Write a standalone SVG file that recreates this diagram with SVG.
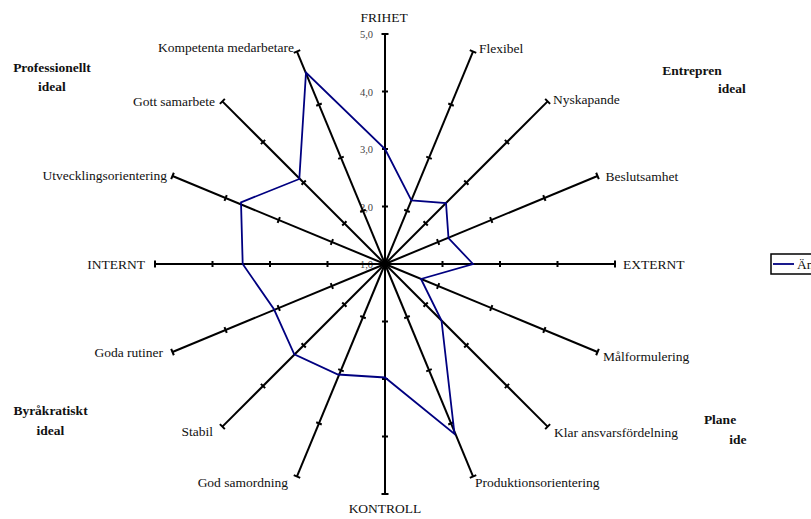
<svg xmlns="http://www.w3.org/2000/svg" xmlns:xlink="http://www.w3.org/1999/xlink" width="811" height="519" viewBox="0 0 811 519">
<style>
.ax{stroke:#000;stroke-width:2;fill:none}
text{font-family:'Liberation Serif','Times New Roman',serif}
.lbl{font-size:13.5px;fill:#111}
.ttl{font-size:13.5px;font-weight:bold;fill:#111;text-anchor:middle}
.val{font-size:10.5px;fill:#444;text-anchor:end}
.series{stroke:#000080;stroke-width:1.8;fill:none;stroke-linejoin:miter}
</style>
<defs>
<g id="axis">
<line class="ax" x1="0" y1="0" x2="0" y2="-230"/>
<path class="ax" d="M-3,-57.5H3M-3,-115H3M-3,-172.5H3M-3.5,-230H3.5"/>
</g>
</defs>
<rect width="811" height="519" fill="#fff"/>

<g id="value-labels">
<text class="val" x="373" y="38">5,0</text>
<text class="val" x="373" y="95.5">4,0</text>
<text class="val" x="373" y="153">3,0</text>
<text class="val" x="373" y="210.5">2,0</text>
<text class="val" x="373" y="268">1,0</text>
</g>

<g id="connectors">
<use xlink:href="#axis" transform="translate(385 264) rotate(0)"/>
<use xlink:href="#axis" transform="translate(385 264) rotate(22.5)"/>
<use xlink:href="#axis" transform="translate(385 264) rotate(45)"/>
<use xlink:href="#axis" transform="translate(385 264) rotate(67.5)"/>
<use xlink:href="#axis" transform="translate(385 264) rotate(90)"/>
<use xlink:href="#axis" transform="translate(385 264) rotate(112.5)"/>
<use xlink:href="#axis" transform="translate(385 264) rotate(135)"/>
<use xlink:href="#axis" transform="translate(385 264) rotate(157.5)"/>
<use xlink:href="#axis" transform="translate(385 264) rotate(180)"/>
<use xlink:href="#axis" transform="translate(385 264) rotate(202.5)"/>
<use xlink:href="#axis" transform="translate(385 264) rotate(225)"/>
<use xlink:href="#axis" transform="translate(385 264) rotate(247.5)"/>
<use xlink:href="#axis" transform="translate(385 264) rotate(270)"/>
<use xlink:href="#axis" transform="translate(385 264) rotate(292.5)"/>
<use xlink:href="#axis" transform="translate(385 264) rotate(315)"/>
<use xlink:href="#axis" transform="translate(385 264) rotate(337.5)"/>
</g>

<g id="series">
<polygon class="series" points="385,149 411.4,200.3 446,203 448.5,238 473,264 421,279 441.5,320.5 454.5,434 385,377.5 338,374.5 294.3,354.3 274,309.3 242.7,264 241,202.3 299.3,179 306,72.5"/>
</g>

<g id="n-frihet"><text class="lbl" x="384" y="22" text-anchor="middle">FRIHET</text></g>
<g id="n-flexibel"><text class="lbl" x="479" y="53">Flexibel</text></g>
<g id="n-nyskapande"><text class="lbl" x="553" y="104">Nyskapande</text></g>
<g id="n-beslutsamhet"><text class="lbl" x="605.5" y="181">Beslutsamhet</text></g>
<g id="n-externt"><text class="lbl" x="623" y="269">EXTERNT</text></g>
<g id="n-malformulering"><text class="lbl" x="603" y="361">Målformulering</text></g>
<g id="n-klar"><text class="lbl" x="554" y="437">Klar ansvarsfördelning</text></g>
<g id="n-produktion"><text class="lbl" x="475" y="487">Produktionsorientering</text></g>
<g id="n-kontroll"><text class="lbl" x="385" y="513" text-anchor="middle">KONTROLL</text></g>
<g id="n-samordning"><text class="lbl" x="288" y="487" text-anchor="end">God samordning</text></g>
<g id="n-stabil"><text class="lbl" x="213" y="436" text-anchor="end">Stabil</text></g>
<g id="n-rutiner"><text class="lbl" x="163" y="357" text-anchor="end">Goda rutiner</text></g>
<g id="n-internt"><text class="lbl" x="145" y="269" text-anchor="end">INTERNT</text></g>
<g id="n-utveckling"><text class="lbl" x="167" y="180" text-anchor="end">Utvecklingsorientering</text></g>
<g id="n-samarbete"><text class="lbl" x="215" y="106" text-anchor="end">Gott samarbete</text></g>
<g id="n-kompetenta"><text class="lbl" x="294" y="52" text-anchor="end">Kompetenta medarbetare</text></g>

<g id="t-professionellt"><text class="ttl" x="52" y="72">Professionellt</text><text class="ttl" x="52" y="91">ideal</text></g>
<g id="t-byrakratiskt"><text class="ttl" x="50.5" y="415">Byråkratiskt</text><text class="ttl" x="50.5" y="435">ideal</text></g>
<g id="t-entrepren"><text class="ttl" x="692" y="75" text-anchor="start">Entrepren</text><text class="ttl" x="732" y="93">ideal</text></g>
<g id="t-plane"><text class="ttl" x="720" y="424" text-anchor="start">Plane</text><text class="ttl" x="738" y="444" text-anchor="start">ide</text></g>

<g id="legend">
<rect x="771" y="254" width="50" height="20" fill="#fff" stroke="#000" stroke-width="1.5"/>
<line x1="773" y1="264" x2="794" y2="264" stroke="#000080" stroke-width="1.8"/>
<text class="lbl" x="797" y="269">Än</text>
</g>
</svg>
